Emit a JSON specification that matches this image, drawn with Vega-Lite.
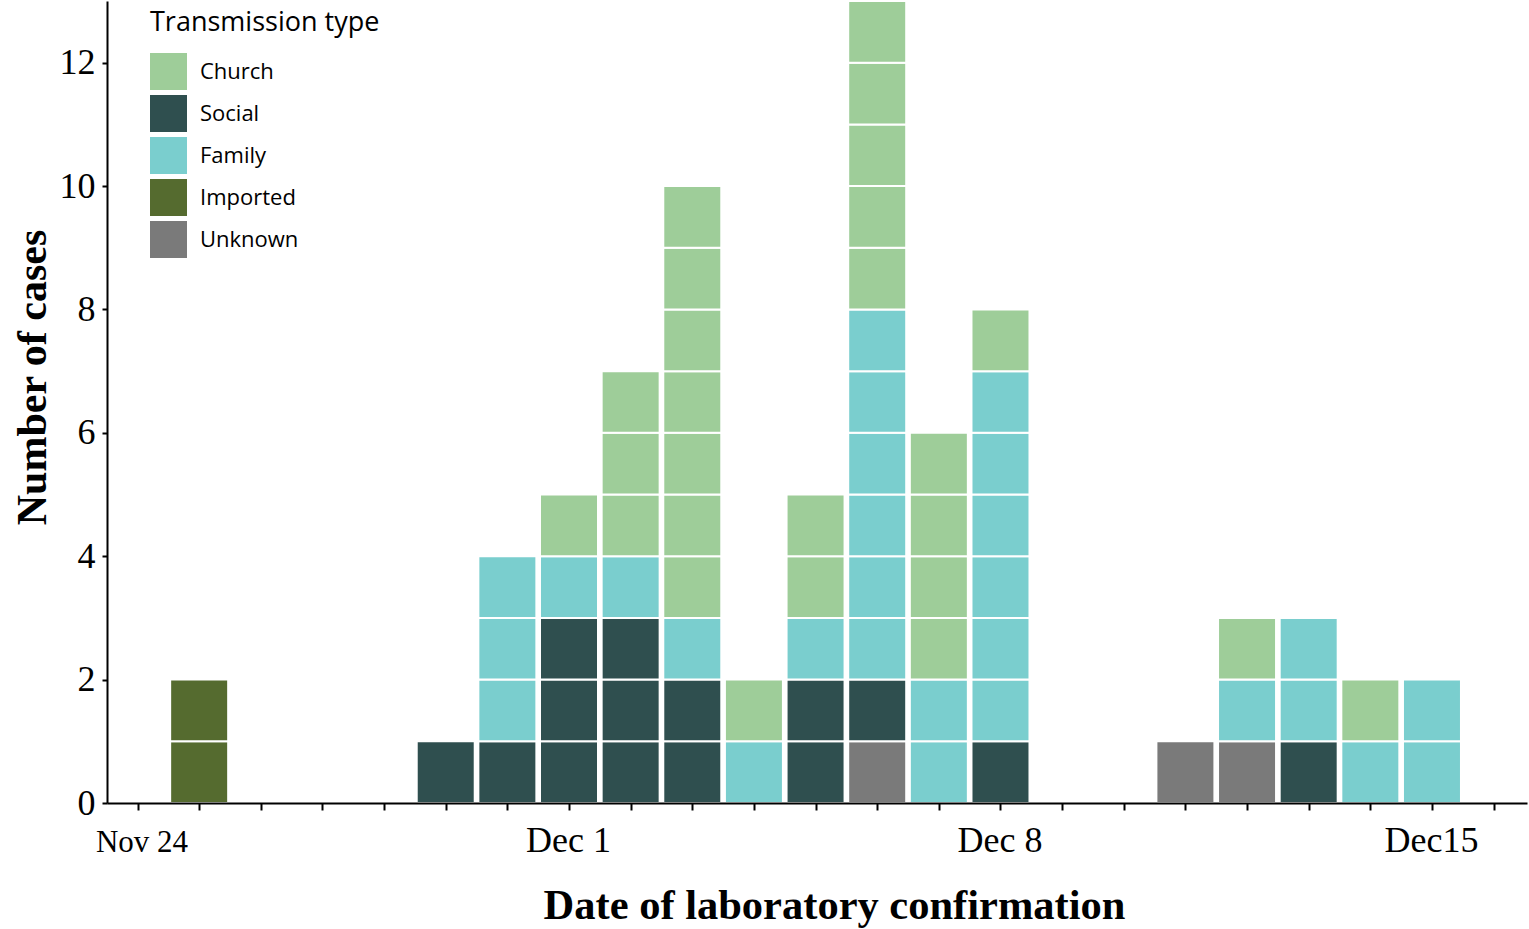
{
  "$schema": "https://vega.github.io/schema/vega-lite/v6.json",
  "width": 1420,
  "height": 802,
  "autosize": "none",
  "padding": {"left": 107, "top": 1, "right": 2, "bottom": 126},
  "background": "white",
  "config": {
    "view": {"stroke": null},
    "axis": {
      "grid": false,
      "domainColor": "black",
      "domainWidth": 2,
      "tickColor": "black",
      "tickWidth": 2,
      "labelColor": "black",
      "titleColor": "black",
      "labelFont": "Liberation Serif",
      "titleFont": "Liberation Serif"
    }
  },
  "data": {
    "values": [
      {"date": "2020-11-25", "type": "Imported", "cases": 1},
      {"date": "2020-11-25", "type": "Imported", "cases": 1},
      {"date": "2020-11-29", "type": "Social", "cases": 1},
      {"date": "2020-11-30", "type": "Social", "cases": 1},
      {"date": "2020-11-30", "type": "Family", "cases": 1},
      {"date": "2020-11-30", "type": "Family", "cases": 1},
      {"date": "2020-11-30", "type": "Family", "cases": 1},
      {"date": "2020-12-01", "type": "Social", "cases": 1},
      {"date": "2020-12-01", "type": "Social", "cases": 1},
      {"date": "2020-12-01", "type": "Social", "cases": 1},
      {"date": "2020-12-01", "type": "Family", "cases": 1},
      {"date": "2020-12-01", "type": "Church", "cases": 1},
      {"date": "2020-12-02", "type": "Social", "cases": 1},
      {"date": "2020-12-02", "type": "Social", "cases": 1},
      {"date": "2020-12-02", "type": "Social", "cases": 1},
      {"date": "2020-12-02", "type": "Family", "cases": 1},
      {"date": "2020-12-02", "type": "Church", "cases": 1},
      {"date": "2020-12-02", "type": "Church", "cases": 1},
      {"date": "2020-12-02", "type": "Church", "cases": 1},
      {"date": "2020-12-03", "type": "Social", "cases": 1},
      {"date": "2020-12-03", "type": "Social", "cases": 1},
      {"date": "2020-12-03", "type": "Family", "cases": 1},
      {"date": "2020-12-03", "type": "Church", "cases": 1},
      {"date": "2020-12-03", "type": "Church", "cases": 1},
      {"date": "2020-12-03", "type": "Church", "cases": 1},
      {"date": "2020-12-03", "type": "Church", "cases": 1},
      {"date": "2020-12-03", "type": "Church", "cases": 1},
      {"date": "2020-12-03", "type": "Church", "cases": 1},
      {"date": "2020-12-03", "type": "Church", "cases": 1},
      {"date": "2020-12-04", "type": "Family", "cases": 1},
      {"date": "2020-12-04", "type": "Church", "cases": 1},
      {"date": "2020-12-05", "type": "Social", "cases": 1},
      {"date": "2020-12-05", "type": "Social", "cases": 1},
      {"date": "2020-12-05", "type": "Family", "cases": 1},
      {"date": "2020-12-05", "type": "Church", "cases": 1},
      {"date": "2020-12-05", "type": "Church", "cases": 1},
      {"date": "2020-12-06", "type": "Unknown", "cases": 1},
      {"date": "2020-12-06", "type": "Social", "cases": 1},
      {"date": "2020-12-06", "type": "Family", "cases": 1},
      {"date": "2020-12-06", "type": "Family", "cases": 1},
      {"date": "2020-12-06", "type": "Family", "cases": 1},
      {"date": "2020-12-06", "type": "Family", "cases": 1},
      {"date": "2020-12-06", "type": "Family", "cases": 1},
      {"date": "2020-12-06", "type": "Family", "cases": 1},
      {"date": "2020-12-06", "type": "Church", "cases": 1},
      {"date": "2020-12-06", "type": "Church", "cases": 1},
      {"date": "2020-12-06", "type": "Church", "cases": 1},
      {"date": "2020-12-06", "type": "Church", "cases": 1},
      {"date": "2020-12-06", "type": "Church", "cases": 1},
      {"date": "2020-12-07", "type": "Family", "cases": 1},
      {"date": "2020-12-07", "type": "Family", "cases": 1},
      {"date": "2020-12-07", "type": "Church", "cases": 1},
      {"date": "2020-12-07", "type": "Church", "cases": 1},
      {"date": "2020-12-07", "type": "Church", "cases": 1},
      {"date": "2020-12-07", "type": "Church", "cases": 1},
      {"date": "2020-12-08", "type": "Social", "cases": 1},
      {"date": "2020-12-08", "type": "Family", "cases": 1},
      {"date": "2020-12-08", "type": "Family", "cases": 1},
      {"date": "2020-12-08", "type": "Family", "cases": 1},
      {"date": "2020-12-08", "type": "Family", "cases": 1},
      {"date": "2020-12-08", "type": "Family", "cases": 1},
      {"date": "2020-12-08", "type": "Family", "cases": 1},
      {"date": "2020-12-08", "type": "Church", "cases": 1},
      {"date": "2020-12-11", "type": "Unknown", "cases": 1},
      {"date": "2020-12-12", "type": "Unknown", "cases": 1},
      {"date": "2020-12-12", "type": "Family", "cases": 1},
      {"date": "2020-12-12", "type": "Church", "cases": 1},
      {"date": "2020-12-13", "type": "Social", "cases": 1},
      {"date": "2020-12-13", "type": "Family", "cases": 1},
      {"date": "2020-12-13", "type": "Family", "cases": 1},
      {"date": "2020-12-14", "type": "Family", "cases": 1},
      {"date": "2020-12-14", "type": "Church", "cases": 1},
      {"date": "2020-12-15", "type": "Family", "cases": 1},
      {"date": "2020-12-15", "type": "Family", "cases": 1}
    ]
  },
  "mark": {"type": "bar", "width": 58, "stroke": "white", "strokeWidth": 2},
  "encoding": {
    "x": {
      "field": "date",
      "type": "temporal",
      "scale": {
        "type": "utc",
        "padding": 0,
        "nice": false,
        "domain": [
          {"year": 2020, "month": 11, "date": 23, "hours": 12, "minutes": 7, "utc": true},
          {"year": 2020, "month": 12, "date": 16, "hours": 13, "utc": true}
        ]
      },
      "axis": {
        "zindex": 1,
        "title": "Date of laboratory confirmation",
        "titleFontSize": 42.5,
        "titleFontWeight": "bold",
        "titleX": 727,
        "titleY": 102,
        "titleBaseline": "middle",
        "titleAlign": "center",
        "tickSize": 7,
        "labelFontSize": {"condition": {"test": "utcdate(datum.value) == 24", "value": 31}, "value": 36},
        "labelOffset": {"condition": {"test": "utcdate(datum.value) == 24", "value": 4}, "value": -1},
        "labelBaseline": "alphabetic",
        "labelPadding": 41,
        "labelFlush": false,
        "labelOverlap": false,
        "values": [
          {"year": 2020, "month": 11, "date": 24, "utc": true},
          {"year": 2020, "month": 11, "date": 25, "utc": true},
          {"year": 2020, "month": 11, "date": 26, "utc": true},
          {"year": 2020, "month": 11, "date": 27, "utc": true},
          {"year": 2020, "month": 11, "date": 28, "utc": true},
          {"year": 2020, "month": 11, "date": 29, "utc": true},
          {"year": 2020, "month": 11, "date": 30, "utc": true},
          {"year": 2020, "month": 12, "date": 1, "utc": true},
          {"year": 2020, "month": 12, "date": 2, "utc": true},
          {"year": 2020, "month": 12, "date": 3, "utc": true},
          {"year": 2020, "month": 12, "date": 4, "utc": true},
          {"year": 2020, "month": 12, "date": 5, "utc": true},
          {"year": 2020, "month": 12, "date": 6, "utc": true},
          {"year": 2020, "month": 12, "date": 7, "utc": true},
          {"year": 2020, "month": 12, "date": 8, "utc": true},
          {"year": 2020, "month": 12, "date": 9, "utc": true},
          {"year": 2020, "month": 12, "date": 10, "utc": true},
          {"year": 2020, "month": 12, "date": 11, "utc": true},
          {"year": 2020, "month": 12, "date": 12, "utc": true},
          {"year": 2020, "month": 12, "date": 13, "utc": true},
          {"year": 2020, "month": 12, "date": 14, "utc": true},
          {"year": 2020, "month": 12, "date": 15, "utc": true},
          {"year": 2020, "month": 12, "date": 16, "utc": true}
        ],
        "labelExpr": "utcdate(datum.value) == 24 ? 'Nov 24' : utcdate(datum.value) == 1 ? 'Dec 1' : utcdate(datum.value) == 8 ? 'Dec 8' : utcdate(datum.value) == 15 ? 'Dec15' : ''"
      }
    },
    "y": {
      "field": "cases",
      "type": "quantitative",
      "stack": "zero",
      "scale": {"domain": [0, 13], "nice": false, "padding": 0},
      "axis": {
        "zindex": 1,
        "title": "Number of cases",
        "titleFontSize": 42,
        "titleFontWeight": "bold",
        "titleX": -75,
        "titleY": 376,
        "titleBaseline": "middle",
        "titleAlign": "center",
        "titleAngle": -90,
        "values": [0, 2, 4, 6, 8, 10, 12],
        "tickSize": 5,
        "labelFontSize": 36,
        "labelPadding": 7
      }
    },
    "color": {
      "field": "type",
      "type": "nominal",
      "scale": {
        "domain": ["Church", "Social", "Family", "Imported", "Unknown"],
        "range": ["#9ecd99", "#2f4f4f", "#7acece", "#556b2f", "#7a7a7a"]
      },
      "legend": {
        "title": "Transmission type",
        "orient": "none",
        "legendX": 43,
        "legendY": 9,
        "padding": 0,
        "titleFont": "Open Sans",
        "titleFontSize": 27,
        "titleFontWeight": "normal",
        "titleColor": "black",
        "titleLimit": 600,
        "titlePadding": 16,
        "labelFont": "Open Sans",
        "labelFontSize": 22,
        "labelColor": "black",
        "labelLimit": 400,
        "labelOffset": 13,
        "symbolType": "square",
        "symbolSize": 1369,
        "symbolStrokeWidth": 0,
        "symbolOpacity": 1,
        "rowPadding": 5
      }
    },
    "order": {"field": "type", "sort": "descending"}
  }
}
